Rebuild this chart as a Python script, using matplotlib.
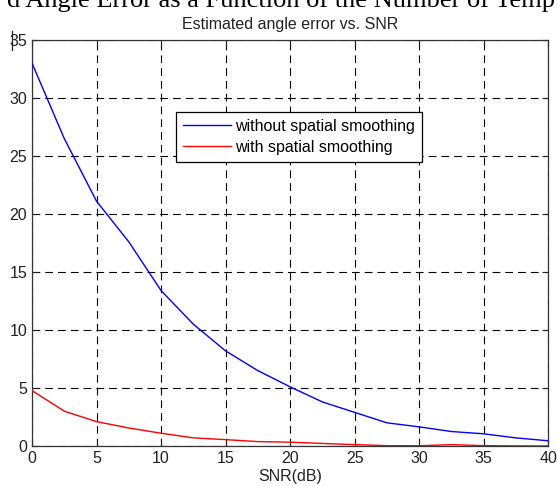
import numpy as np
import matplotlib
matplotlib.use("Agg")
import matplotlib.pyplot as plt
from matplotlib.lines import Line2D

# SNR sweep (dB) and mean angle error (degrees)
snr_db = [0, 2.5, 5, 7.5, 10, 12.5, 15, 17.5, 20, 22.5, 25, 27.5, 30, 32.5, 35, 37.5, 40]
err_no_smoothing = [33.0, 26.5, 21.1, 17.6, 13.4, 10.5, 8.2, 6.5, 5.1, 3.8, 2.9,
                    2.0, 1.65, 1.25, 1.05, 0.7, 0.45]
err_smoothing = [4.77, 3.0, 2.1, 1.55, 1.1, 0.7, 0.55, 0.38, 0.33, 0.22, 0.12,
                 0.03, 0.02, 0.12, 0.03, 0.01, 0.0]

x_ticks = [0, 5, 10, 15, 20, 25, 30, 35, 40]
y_ticks = [0, 5, 10, 15, 20, 25, 30, 35]

plt.rcParams['font.family'] = ['Liberation Sans', 'DejaVu Sans']

fig = plt.figure(figsize=(5.57, 4.86), dpi=100)
fig.patch.set_facecolor('white')
ax = fig.add_axes([0.0575, 0.0823, 0.9265, 0.8354])

ax.plot(snr_db, err_no_smoothing, color='#0000ff', lw=1.0,
        label='without spatial smoothing', zorder=3)
ax.plot(snr_db, err_smoothing, color='#ff0000', lw=1.0,
        label='with spatial smoothing', zorder=3)

ax.set_xlim(0, 40)
ax.set_ylim(0, 35)
ax.set_xticks(x_ticks)
ax.set_yticks(y_ticks)

# matlab-style box: inward ticks on every side, dashed black grid
ax.tick_params(direction='in', length=4, width=0.8, top=True, right=True,
               labelsize=11.5, colors='#222222', pad=3.5)
for sp in ax.spines.values():
    sp.set_color('#333333')
    sp.set_linewidth(0.9)
ax.grid(True, color='black', linewidth=0.8, linestyle=(0, (7, 4.5)))

ax.set_title('Estimated angle error vs. SNR', fontsize=11.5, pad=8, color='#222222')
ax.set_xlabel('SNR(dB)', fontsize=11.5, labelpad=2, color='#222222')

leg = ax.legend(loc='upper left', bbox_to_anchor=(0.279, 0.823), fontsize=11.5,
                frameon=True, fancybox=False, framealpha=1, edgecolor='black',
                handlelength=3.0, handletextpad=0.25, borderpad=0.45,
                labelspacing=0.35, borderaxespad=0)
leg.get_frame().set_linewidth(0.9)

# heading of the page above the figure, cut off at the top edge
fig.text(555 / 557, 1 - 6.5 / 486,
         'd Angle Error as a Function of the Number of Temp',
         ha='right', va='baseline', fontsize=19, color='black',
         family=['Liberation Serif', 'DejaVu Serif'])

# stray cursor mark next to the top tick label
fig.add_artist(Line2D([11.5 / 557, 11.5 / 557], [1 - 31 / 486, 1 - 50 / 486],
                      color='#222222', lw=0.9))

fig.savefig('out.png', dpi=100)
